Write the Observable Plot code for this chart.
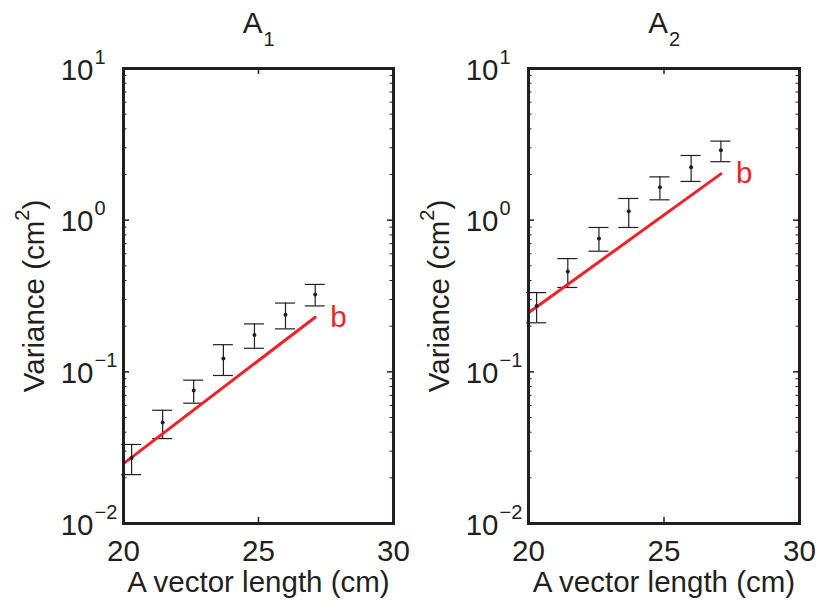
<!DOCTYPE html>
<html><head><meta charset="utf-8">
<script src="https://cdn.jsdelivr.net/npm/d3@7"></script>
<script src="https://cdn.jsdelivr.net/npm/@observablehq/plot@0.6"></script>
<style>
body{margin:0;background:#fff;}
#row{display:flex;width:821px;height:600px;}
#row svg{display:block;}
</style></head><body><div id="row"></div>
<script>
// ---- data ----
const lengths = [20.3, 21.45, 22.6, 23.7, 24.85, 26.0, 27.1];
const a1Mean = [0.0270, 0.0464, 0.0754, 0.1225, 0.175, 0.238, 0.324];
const a1Hi   = [0.0332, 0.0558, 0.0881, 0.151, 0.207, 0.284, 0.377];
const a1Lo   = [0.0210, 0.0363, 0.0621, 0.0946, 0.143, 0.192, 0.272];
const a2Mean = [0.272, 0.459, 0.757, 1.146, 1.649, 2.235, 2.89];
const a2Hi   = [0.333, 0.558, 0.895, 1.39, 1.93, 2.67, 3.32];
const a2Lo   = [0.2105, 0.360, 0.624, 0.895, 1.362, 1.80, 2.43];
const fitX   = [20, 27.1];
const a1Fit  = [0.0248, 0.229];
const a2Fit  = [0.245, 2.02];
const xTicks = [20, 25, 30];
const yTicks = [0.01, 0.1, 1, 10];
const yExp   = ["\u22122", "\u22121", "0", "1"];
const yMinor = [2,3,4,5,6,7,8,9].flatMap(m => [0.01, 0.1, 1].map(d => m * d));
const fitLabel = "b";
const xLabel = "A vector length (cm)";
const yLabelBase = "Variance (cm";
const yLabelSup = "2";
const yLabelEnd = ")";

// ---- style ----
const INK = "#231f20", RED = "#ee2229", FONT = "'Liberation Sans', Arial, sans-serif";
const H = 600, MT = 68, MB = 77;
const capHalf = 0.37;

function panel({mean, lo, hi, fit, sub, width, marginLeft, marginRight}) {
  const data = lengths.map((x, i) => ({x, m: mean[i], lo: lo[i], hi: hi[i]}));
  const fitData = fitX.map((x, i) => ({x, y: fit[i]}));
  const fw = width - marginLeft - marginRight;
  const fh = H - MT - MB;
  const svg = Plot.plot({
    width, height: H, marginLeft, marginRight, marginTop: MT, marginBottom: MB,
    style: {fontFamily: FONT, background: "#fff", color: INK, overflow: "visible"},
    x: {domain: [20, 30]},
    y: {type: "log", domain: [0.01, 10], axis: null},
    marks: [
      Plot.ruleX(data, {x: "x", y1: "lo", y2: "hi", stroke: INK, strokeWidth: 1.2}),
      Plot.ruleY(data, {y: "hi", x1: d => d.x - capHalf, x2: d => d.x + capHalf, stroke: INK, strokeWidth: 1.2}),
      Plot.ruleY(data, {y: "lo", x1: d => d.x - capHalf, x2: d => d.x + capHalf, stroke: INK, strokeWidth: 1.2}),
      Plot.line(fitData, {x: "x", y: "y", stroke: RED, strokeWidth: 3}),
      Plot.dot(data, {x: "x", y: "m", r: 2, fill: INK}),
      Plot.text(fitData.slice(-1), {x: "x", y: "y", text: () => fitLabel, fill: RED, dx: 15, textAnchor: "start", fontSize: 29.5}),
      // inward tick marks
      Plot.tickX(xTicks, {x: d => d, insetTop: fh - 6, stroke: INK, strokeWidth: 1.5}),
      Plot.tickX(xTicks, {x: d => d, insetBottom: fh - 6, stroke: INK, strokeWidth: 1.5}),
      Plot.tickY(yTicks, {y: d => d, insetRight: fw - 6, stroke: INK, strokeWidth: 1.5}),
      Plot.tickY(yTicks, {y: d => d, insetLeft: fw - 6, stroke: INK, strokeWidth: 1.5}),
      Plot.tickY(yMinor, {y: d => d, insetRight: fw - 3.5, stroke: INK, strokeWidth: 1}),
      Plot.tickY(yMinor, {y: d => d, insetLeft: fw - 3.5, stroke: INK, strokeWidth: 1}),
      Plot.frame({stroke: INK, strokeWidth: 3}),
      // x tick labels
      Plot.axisX(xTicks, {tickSize: 0, tickPadding: 17, fontSize: 29.5, label: null, tickFormat: d => String(d), fill: INK}),
      // y tick labels 10^n
      Plot.text(yTicks, {y: d => d, frameAnchor: "left", text: () => "10", textAnchor: "end", dx: -30, dy: 11, lineAnchor: "bottom", fontSize: 29.5, fill: INK}),
      Plot.text(yTicks, {y: d => d, frameAnchor: "left", text: (d, i) => yExp[i], textAnchor: "start", dx: -29, dy: -5, lineAnchor: "bottom", fontSize: 20, fill: INK}),
      // axis labels
      Plot.text([xLabel], {frameAnchor: "bottom", text: d => d, textAnchor: "middle", lineAnchor: "bottom", dy: 68, fontSize: 29.5, fill: INK}),
      Plot.text([yLabelBase + yLabelSup + yLabelEnd], {frameAnchor: "left", text: d => d, rotate: -90, dx: -80, textAnchor: "middle", lineAnchor: "bottom", fontSize: 29.5, fill: INK, className: "ylab"}),
      // title A_n
      Plot.text(["A"], {frameAnchor: "top", text: d => d, textAnchor: "end", dx: 4, dy: -36, lineAnchor: "bottom", fontSize: 29.5, fill: INK}),
      Plot.text([sub], {frameAnchor: "top", text: d => d, textAnchor: "start", dx: 5, dy: -23, lineAnchor: "bottom", fontSize: 20, fill: INK})
    ]
  });
  // render the superscript of the y label as a raised tspan
  const full = yLabelBase + yLabelSup + yLabelEnd;
  svg.querySelectorAll("text").forEach(t => {
    if (t.textContent === full) {
      while (t.firstChild) t.removeChild(t.firstChild);
      const ns = "http://www.w3.org/2000/svg";
      t.appendChild(document.createTextNode(yLabelBase));
      const s = document.createElementNS(ns, "tspan");
      s.setAttribute("dy", "-15"); s.setAttribute("font-size", "20"); s.textContent = yLabelSup;
      const e = document.createElementNS(ns, "tspan");
      e.setAttribute("dy", "15"); e.textContent = yLabelEnd;
      t.appendChild(s); t.appendChild(e);
    }
  });
  return svg;
}

const row = document.getElementById("row");
row.append(panel({mean: a1Mean, lo: a1Lo, hi: a1Hi, fit: a1Fit, sub: "1", width: 410, marginLeft: 123, marginRight: 17}));
row.append(panel({mean: a2Mean, lo: a2Lo, hi: a2Hi, fit: a2Fit, sub: "2", width: 411, marginLeft: 118, marginRight: 22}));
</script>
</body></html>
